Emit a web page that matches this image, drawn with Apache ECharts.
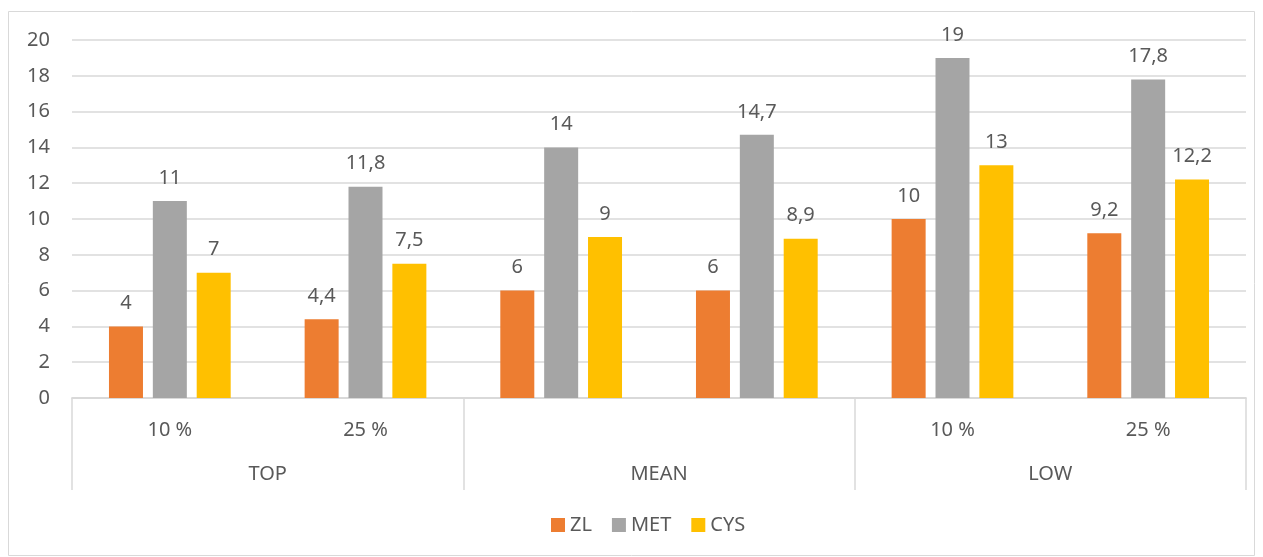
<!DOCTYPE html>
<html>
<head>
<meta charset="utf-8">
<script src="https://cdn.jsdelivr.net/npm/echarts@6/dist/echarts.min.js"></script>
<style>
  html, body { margin: 0; padding: 0; background: #fff; }
  #chart { width: 1263px; height: 557px; }
</style>
</head>
<body>
<div id="chart"></div>
<script>
// Sub-level labels (one per bar group) and the top-level groups beneath them
const subLabels = ['10 %', '25 %', '', '', '10 %', '25 %'];
const groupLabels = ['TOP', 'MEAN', 'LOW'];

const seriesNames = ['ZL', 'MET', 'CYS'];
const zlValues  = [4, 4.4, 6, 6, 10, 9.2];
const metValues = [11, 11.8, 14, 14.7, 19, 17.8];
const cysValues = [7, 7.5, 9, 8.9, 13, 12.2];

const yTicks = { min: 0, max: 20, interval: 2 };

const colors = ['#ED7D31', '#A5A5A5', '#FFC000'];
const textColor = '#595959';
const lineColor = '#D9D9D9';
const font = '"Noto Sans", "Open Sans", sans-serif';

const chart = echarts.init(document.getElementById('chart'), null, { renderer: 'canvas' });

function barSeries(name, values, color) {
  return {
    name: name,
    type: 'bar',
    xAxisIndex: 0,
    data: values,
    itemStyle: { color: color },
    barWidth: 34,
    barGap: '29%',
    label: {
      show: true,
      position: 'top',
      distance: 13,
      color: textColor,
      fontFamily: font,
      fontSize: 20,
      formatter: p => String(p.value).replace('.', ',')
    }
  };
}

chart.setOption({
  animation: false,
  backgroundColor: '#fff',
  color: colors,
  textStyle: { fontFamily: font },
  graphic: [{
    type: 'rect',
    shape: { x: 8.5, y: 11.5, width: 1246, height: 544 },
    style: { fill: 'none', stroke: lineColor, lineWidth: 1 },
    silent: true,
    z: -1
  }],
  grid: { left: 72, right: 17, top: 40, bottom: 159, containLabel: false },
  legend: {
    data: seriesNames,
    bottom: 17,
    left: 546,
    icon: 'rect',
    itemWidth: 14,
    itemHeight: 14,
    itemGap: 20,
    textStyle: { color: textColor, fontSize: 20, fontFamily: font }
  },
  xAxis: [{
    type: 'category',
    data: subLabels,
    position: 'bottom',
    axisLine: { show: true, lineStyle: { color: lineColor, width: 1.5 } },
    axisTick: { show: false },
    axisLabel: { color: textColor, fontSize: 20, fontFamily: font, margin: 22, interval: 0 }
  }, {
    type: 'category',
    data: groupLabels,
    position: 'bottom',
    axisLine: { show: true, lineStyle: { color: lineColor, width: 1.5 } },
    axisTick: { show: true, length: 92, lineStyle: { color: lineColor, width: 1.5 } },
    axisLabel: { color: textColor, fontSize: 20, fontFamily: font, margin: 66, interval: 0 }
  }],
  yAxis: {
    type: 'value',
    min: yTicks.min,
    max: yTicks.max,
    interval: yTicks.interval,
    axisLine: { show: false },
    axisTick: { show: false },
    splitLine: { lineStyle: { color: lineColor, width: 1.5 } },
    axisLabel: { color: textColor, fontSize: 20, fontFamily: font, margin: 22 }
  },
  series: [
    barSeries(seriesNames[0], zlValues, colors[0]),
    barSeries(seriesNames[1], metValues, colors[1]),
    barSeries(seriesNames[2], cysValues, colors[2])
  ]
});
</script>
</body>
</html>
